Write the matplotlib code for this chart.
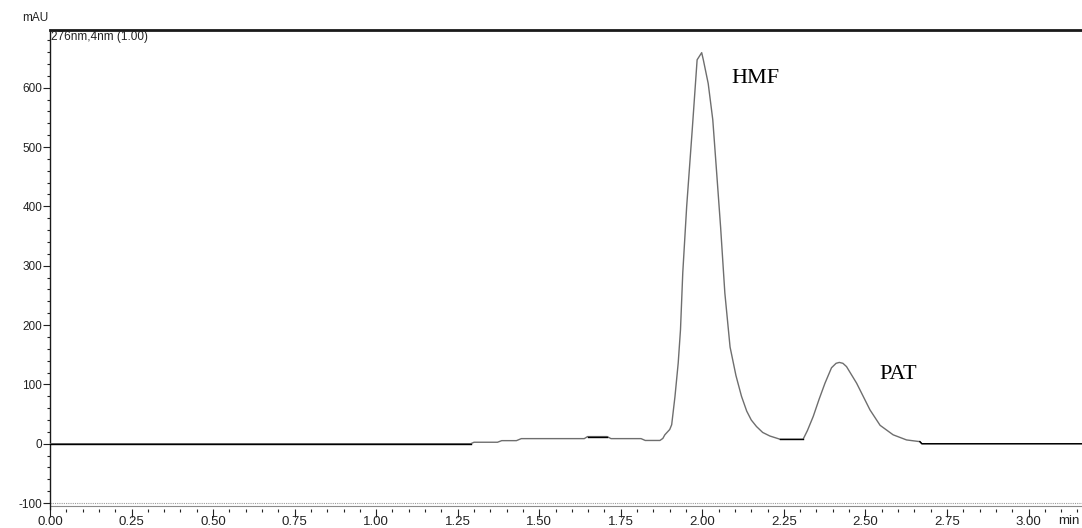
import numpy as np
import matplotlib
matplotlib.use("Agg")
import matplotlib.pyplot as plt
from matplotlib.ticker import MultipleLocator, FormatStrFormatter

# ---- data ----
time_min = [0.000, 1.290, 1.300, 1.372, 1.385, 1.430, 1.445, 1.638, 1.648, 1.708,
            1.720, 1.812, 1.825, 1.870, 1.879, 1.885, 1.900, 1.906, 1.916, 1.926,
            1.933, 1.940, 1.952, 1.969, 1.984, 1.998, 2.003, 2.018, 2.032, 2.044,
            2.056, 2.069, 2.085, 2.103, 2.120, 2.136, 2.150, 2.166, 2.185, 2.207,
            2.238, 2.309, 2.322, 2.340, 2.358, 2.376, 2.396, 2.410, 2.420, 2.431,
            2.442, 2.473, 2.514, 2.545, 2.585, 2.626, 2.667, 2.673, 3.170]
absorbance = [0.0, 0.0, 2.5, 2.5, 5.2, 5.2, 8.6, 8.6, 12.0, 12.0,
              8.6, 8.6, 5.5, 5.5, 9.0, 15.0, 24.0, 32.0, 79.0, 136.0,
              192.0, 288.0, 400.0, 529.0, 647.0, 659.0, 647.0, 607.0, 546.0, 456.0,
              365.0, 254.0, 163.0, 115.0, 80.0, 55.0, 40.0, 29.0, 19.0, 13.0,
              7.6, 7.6, 22.0, 46.0, 75.0, 102.0, 128.0, 135.5, 137.0, 135.5,
              130.0, 102.0, 57.0, 31.0, 15.0, 6.4, 3.5, 0.0, 0.0]
peak_names = ["HMF", "PAT"]
peak_label_time = [2.090, 2.542]
peak_label_abs = [608.0, 109.0]

# baseline (black) segments of the trace; peaks drawn in grey
black_segments = [(0.0, 1.295), (1.643, 1.714), (2.236, 2.311), (2.665, 3.2)]

t = np.array(time_min)
a = np.array(absorbance)

fig = plt.figure(figsize=(10.82, 5.28), dpi=100)
W, H = 1082, 528
ax = fig.add_axes([50 / W, 19 / H, 1032 / W, 479 / H])

ax.plot(t, a, color="#6e6e6e", lw=1.0, solid_joinstyle="round", zorder=3)
for lo, hi in black_segments:
    m = (t >= lo) & (t <= hi)
    ax.plot(t[m], a[m], color="black", lw=1.0, zorder=4)

for name, xt, ya in zip(peak_names, peak_label_time, peak_label_abs):
    ax.text(xt, ya, name, fontsize=16, family="Liberation Serif", ha="left",
            va="baseline", color="black")

ax.set_xlim(0, 3.164)
ax.set_ylim(-110, 697.2)

# decorative lines near the bottom
ax.axhline(-100, color="#9a9a9a", lw=0.8, ls=(0, (1, 1)), zorder=1)
ax.axhline(-105.5, color="#8a8a8a", lw=0.8, zorder=1)

ax.spines["right"].set_visible(False)
ax.spines["bottom"].set_visible(False)
ax.spines["top"].set_linewidth(2.0)
ax.spines["top"].set_color("#1a1a1a")
ax.spines["left"].set_linewidth(1.0)
ax.spines["left"].set_color("#1a1a1a")

ax.xaxis.set_major_locator(MultipleLocator(0.25))
ax.xaxis.set_minor_locator(MultipleLocator(0.05))
ax.xaxis.set_major_formatter(FormatStrFormatter("%.2f"))
ax.yaxis.set_major_locator(MultipleLocator(100))
ax.yaxis.set_minor_locator(MultipleLocator(20))
ax.yaxis.set_major_formatter(FormatStrFormatter("%d"))

ax.tick_params(axis="x", which="major", direction="out", length=6, width=0.8,
               pad=-1.2, labelsize=9.5, colors="#222222")
ax.tick_params(axis="x", which="minor", direction="out", length=2.5, width=0.8,
               colors="#222222")
ax.tick_params(axis="y", which="major", direction="out", length=4.7, width=0.8,
               pad=0.8, labelsize=8.5, colors="#222222")
ax.tick_params(axis="y", which="minor", direction="out", length=2.2, width=0.8,
               colors="#222222")
for lab in ax.get_xticklabels() + ax.get_yticklabels():
    lab.set_family("Liberation Sans")

fig.text(1080 / W, 1 - 521 / H, "min", fontsize=9.5, family="Liberation Sans",
         va="center", ha="right", color="#222222")
fig.text(35 / W, 1 - 18 / H, "mAU", fontsize=8.5, family="Liberation Sans",
         va="center", ha="center", color="#222222")
fig.text(51 / W, 1 - 37 / H, "276nm,4nm (1.00)", fontsize=8.5,
         family="Liberation Sans", va="center", ha="left", color="#222222")

fig.savefig("out.png", dpi=100)
